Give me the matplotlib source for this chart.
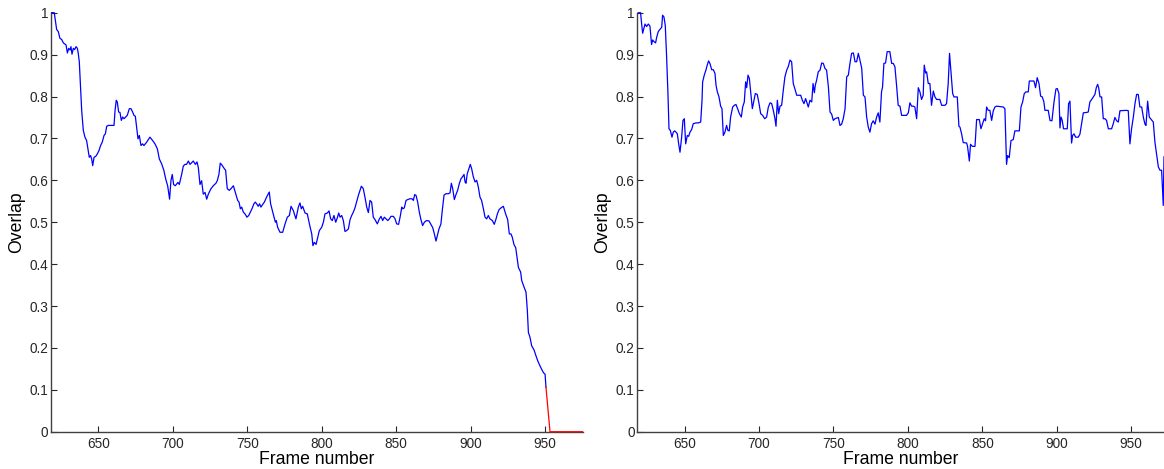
import matplotlib.pyplot as plt
import numpy as np

plt.rcParams['font.family'] = ['Liberation Sans', 'DejaVu Sans']

# left run: tracked frames (blue), then the part after the target is lost (red)
left_frames = [
    618.7, 620.5, 622.1, 623.2, 624.3, 625.5, 626.6, 627.7, 628.4, 629.3, 630.2, 631.1, 631.7, 632.4,
    633.3, 634.2, 635.1, 636.0, 636.6, 637.3, 638.0, 638.9, 640.0, 641.1, 642.2, 643.1, 644.0, 644.9,
    645.6, 646.3, 647.2, 648.3, 649.4, 650.5, 651.6, 652.7, 653.9, 654.8, 655.7, 656.8, 660.6, 661.3,
    662.1, 662.8, 663.7, 664.6, 665.5, 666.4, 667.3, 668.4, 669.5, 670.9, 672.0, 673.1, 674.0, 674.9,
    675.8, 676.7, 677.6, 678.7, 679.8, 680.7, 682.5, 684.7, 686.5, 688.1, 689.7, 691.0, 692.6, 694.1,
    695.3, 696.6, 697.9, 698.8, 699.7, 700.6, 701.7, 703.5, 704.4, 706.0, 707.1, 708.2, 709.3, 710.5,
    711.6, 712.7, 713.8, 715.2, 716.3, 717.2, 718.3, 719.4, 720.5, 721.7, 722.8, 723.9, 725.5, 727.2,
    729.0, 729.9, 731.0, 731.9, 733.1, 734.6, 735.5, 736.6, 738.0, 739.1, 740.7, 742.0, 743.6, 744.5,
    745.4, 746.3, 747.4, 748.5, 749.8, 751.0, 752.1, 753.2, 754.5, 755.4, 756.3, 757.4, 758.3, 759.2,
    760.3, 761.5, 763.0, 764.8, 765.7, 767.1, 768.0, 768.9, 769.5, 770.4, 772.0, 773.8, 775.4, 776.9,
    778.3, 779.4, 780.9, 782.7, 784.3, 785.4, 786.3, 787.2, 788.8, 790.3, 792.1, 793.3, 794.1, 795.0,
    796.2, 797.3, 798.4, 800.0, 801.1, 802.2, 803.8, 804.9, 806.0, 807.1, 808.2, 809.4, 810.5, 811.4,
    812.3, 813.4, 814.5, 815.6, 816.7, 817.9, 819.0, 820.1, 821.2, 822.3, 823.5, 824.6, 825.7, 826.6,
    827.9, 829.0, 830.2, 831.3, 832.4, 833.5, 834.6, 835.8, 837.3, 838.7, 839.8, 840.9, 842.0, 843.1,
    844.3, 845.4, 846.5, 848.1, 849.2, 850.3, 851.6, 852.8, 853.7, 854.3, 855.4, 856.6, 857.7, 859.2,
    860.6, 861.5, 862.4, 863.3, 864.4, 865.5, 866.6, 867.7, 868.9, 870.4, 872.0, 873.1, 874.5, 875.6,
    876.7, 877.6, 878.7, 880.0, 880.9, 882.1, 883.4, 885.0, 886.1, 887.0, 887.9, 889.0, 890.1, 891.2,
    892.4, 893.5, 894.6, 895.5, 896.2, 896.8, 897.7, 898.8, 899.7, 900.6, 901.7, 902.9, 904.0, 905.1,
    906.2, 907.3, 908.5, 909.6, 910.7, 911.8, 912.9, 914.5, 915.8, 917.0, 917.9, 919.0, 920.3, 921.9,
    922.6, 923.4, 924.8, 925.9, 927.0, 927.9, 929.0, 930.2, 932.0, 933.5, 934.2, 935.8, 937.1, 938.0,
    938.7, 939.8, 940.9, 942.5, 943.8, 945.0, 946.1, 947.6, 948.8, 949.9, 950.5]
left_overlap = [
    1.000, 1.000, 0.960, 0.955, 0.939, 0.936, 0.928, 0.925, 0.923, 0.904, 0.915, 0.911, 0.919, 0.901,
    0.915, 0.912, 0.919, 0.915, 0.903, 0.883, 0.831, 0.767, 0.719, 0.703, 0.695, 0.675, 0.655, 0.659,
    0.651, 0.635, 0.655, 0.657, 0.663, 0.671, 0.683, 0.691, 0.707, 0.711, 0.729, 0.731, 0.731, 0.767,
    0.791, 0.787, 0.763, 0.762, 0.743, 0.751, 0.747, 0.751, 0.755, 0.771, 0.771, 0.763, 0.755, 0.753,
    0.727, 0.699, 0.707, 0.683, 0.687, 0.683, 0.691, 0.703, 0.695, 0.687, 0.675, 0.651, 0.639, 0.623,
    0.603, 0.587, 0.555, 0.599, 0.614, 0.590, 0.587, 0.595, 0.590, 0.614, 0.634, 0.638, 0.638, 0.646,
    0.638, 0.642, 0.646, 0.638, 0.644, 0.630, 0.590, 0.599, 0.567, 0.571, 0.555, 0.567, 0.579, 0.587,
    0.593, 0.599, 0.614, 0.641, 0.636, 0.628, 0.624, 0.580, 0.576, 0.580, 0.587, 0.571, 0.552, 0.548,
    0.532, 0.536, 0.524, 0.520, 0.512, 0.516, 0.524, 0.532, 0.544, 0.548, 0.544, 0.538, 0.544, 0.536,
    0.542, 0.548, 0.560, 0.572, 0.544, 0.524, 0.512, 0.500, 0.504, 0.488, 0.476, 0.476, 0.496, 0.512,
    0.516, 0.538, 0.528, 0.508, 0.536, 0.546, 0.532, 0.538, 0.522, 0.520, 0.490, 0.472, 0.444, 0.452,
    0.447, 0.464, 0.480, 0.488, 0.500, 0.520, 0.522, 0.527, 0.508, 0.504, 0.516, 0.500, 0.511, 0.522,
    0.512, 0.516, 0.504, 0.478, 0.480, 0.484, 0.506, 0.516, 0.524, 0.534, 0.550, 0.564, 0.576, 0.586,
    0.580, 0.560, 0.536, 0.523, 0.552, 0.548, 0.512, 0.506, 0.496, 0.508, 0.514, 0.504, 0.512, 0.508,
    0.504, 0.508, 0.514, 0.514, 0.508, 0.496, 0.495, 0.516, 0.536, 0.532, 0.534, 0.552, 0.554, 0.556,
    0.556, 0.552, 0.566, 0.564, 0.548, 0.524, 0.506, 0.492, 0.500, 0.504, 0.503, 0.496, 0.487, 0.472,
    0.455, 0.468, 0.484, 0.496, 0.528, 0.565, 0.568, 0.568, 0.570, 0.593, 0.580, 0.554, 0.566, 0.576,
    0.593, 0.604, 0.609, 0.614, 0.596, 0.593, 0.616, 0.628, 0.638, 0.628, 0.609, 0.596, 0.600, 0.584,
    0.560, 0.552, 0.532, 0.512, 0.508, 0.516, 0.508, 0.504, 0.495, 0.508, 0.520, 0.530, 0.534, 0.538,
    0.530, 0.520, 0.506, 0.472, 0.472, 0.464, 0.447, 0.439, 0.392, 0.381, 0.361, 0.345, 0.333, 0.289,
    0.237, 0.225, 0.205, 0.195, 0.181, 0.169, 0.160, 0.149, 0.141, 0.137, 0.106]
lost_frames = [950.5, 953.2, 975.0]
lost_overlap = [0.106, 0.0, 0.0]

# right run
right_frames = [
    618.9, 620.4, 621.1, 621.8, 622.7, 623.4, 624.5, 625.6, 626.7, 627.8, 628.5, 629.4, 630.5, 631.2,
    632.3, 633.4, 634.6, 635.2, 636.1, 637.0, 637.9, 638.8, 639.5, 640.4, 641.5, 642.4, 643.3, 644.2,
    645.1, 646.0, 646.9, 648.0, 648.9, 649.8, 650.7, 651.8, 652.7, 653.6, 654.7, 655.8, 657.6, 659.2,
    660.8, 661.7, 662.1, 663.2, 664.4, 665.2, 666.1, 667.0, 668.2, 669.3, 670.4, 671.1, 672.0, 673.1,
    674.2, 675.1, 676.0, 677.1, 678.2, 679.1, 680.0, 680.9, 682.3, 683.4, 684.5, 685.6, 686.8, 688.1,
    689.0, 690.1, 691.0, 691.7, 692.6, 693.5, 694.4, 695.5, 696.6, 697.5, 698.8, 700.0, 701.1, 702.4,
    703.8, 705.1, 706.2, 707.4, 708.5, 709.6, 710.7, 711.4, 712.3, 713.2, 714.1, 715.2, 716.3, 717.4,
    718.6, 719.7, 720.8, 721.9, 723.0, 724.2, 725.3, 728.0, 729.1, 730.2, 731.3, 732.4, 733.1, 734.2,
    735.4, 736.3, 737.2, 737.8, 738.7, 739.8, 741.0, 742.1, 743.2, 744.3, 745.4, 746.6, 747.7, 748.8,
    749.9, 751.0, 753.3, 754.4, 755.5, 756.6, 757.8, 758.9, 760.0, 761.1, 762.2, 763.4, 764.5, 765.6,
    766.7, 767.8, 769.0, 770.1, 771.2, 772.3, 773.4, 774.5, 775.6, 776.7, 777.9, 779.0, 780.1, 781.2,
    782.3, 783.0, 783.9, 785.0, 786.1, 787.9, 789.1, 790.2, 791.3, 792.4, 793.5, 794.7, 795.8, 799.1,
    800.3, 801.4, 802.5, 803.6, 804.7, 805.9, 807.0, 808.1, 809.2, 810.3, 811.0, 811.9, 812.6, 813.7,
    814.8, 815.9, 817.1, 818.2, 819.3, 821.5, 822.7, 824.9, 826.0, 827.1, 828.0, 828.9, 830.1, 831.0,
    833.2, 834.3, 835.0, 836.1, 837.2, 839.5, 840.1, 841.3, 842.1, 843.3, 845.1, 846.2, 848.0, 849.1,
    850.2, 851.3, 852.2, 852.9, 854.0, 855.1, 856.3, 857.4, 858.5, 859.6, 864.1, 865.2, 866.3, 867.0,
    868.1, 869.3, 870.8, 871.9, 874.9, 876.0, 877.1, 878.2, 879.3, 880.9, 881.6, 884.7, 885.8, 886.9,
    888.1, 889.2, 890.3, 891.4, 892.1, 894.3, 895.5, 896.8, 898.2, 899.5, 900.4, 901.5, 902.2, 902.9,
    903.7, 904.6, 907.1, 908.0, 908.9, 910.0, 910.7, 911.6, 912.7, 914.5, 915.6, 916.7, 917.9, 920.1,
    921.2, 922.3, 923.5, 924.6, 925.7, 926.6, 927.5, 928.2, 929.1, 930.2, 931.3, 932.4, 933.5, 934.7,
    936.9, 938.0, 939.1, 940.3, 941.4, 942.5, 947.0, 948.1, 949.2, 950.3, 951.5, 952.6, 953.7, 954.8,
    955.9, 957.1, 958.2, 959.3, 960.0, 961.1, 962.2, 964.2, 964.9, 966.0, 967.1, 968.3, 969.4, 970.5,
    971.6, 972.1]
right_overlap = [
    1.000, 1.000, 0.974, 0.951, 0.963, 0.973, 0.967, 0.973, 0.968, 0.924, 0.935, 0.931, 0.928, 0.941,
    0.955, 0.960, 0.965, 0.994, 0.990, 0.970, 0.895, 0.807, 0.723, 0.719, 0.703, 0.715, 0.718, 0.715,
    0.711, 0.687, 0.667, 0.703, 0.743, 0.747, 0.687, 0.707, 0.705, 0.715, 0.721, 0.735, 0.737, 0.737,
    0.739, 0.791, 0.835, 0.851, 0.864, 0.875, 0.885, 0.879, 0.864, 0.864, 0.855, 0.827, 0.811, 0.799,
    0.777, 0.771, 0.707, 0.715, 0.731, 0.719, 0.718, 0.751, 0.775, 0.779, 0.781, 0.771, 0.759, 0.751,
    0.775, 0.787, 0.835, 0.821, 0.851, 0.843, 0.811, 0.771, 0.791, 0.807, 0.805, 0.783, 0.759, 0.755,
    0.747, 0.751, 0.774, 0.785, 0.783, 0.767, 0.747, 0.729, 0.791, 0.759, 0.777, 0.779, 0.815, 0.847,
    0.863, 0.872, 0.887, 0.883, 0.831, 0.817, 0.803, 0.803, 0.791, 0.783, 0.795, 0.783, 0.775, 0.791,
    0.787, 0.831, 0.809, 0.827, 0.839, 0.859, 0.863, 0.880, 0.879, 0.867, 0.863, 0.823, 0.763, 0.758,
    0.743, 0.747, 0.750, 0.731, 0.734, 0.747, 0.771, 0.847, 0.851, 0.879, 0.903, 0.904, 0.883, 0.883,
    0.903, 0.887, 0.867, 0.803, 0.799, 0.751, 0.727, 0.715, 0.735, 0.742, 0.734, 0.751, 0.761, 0.739,
    0.811, 0.823, 0.879, 0.880, 0.907, 0.907, 0.879, 0.879, 0.871, 0.827, 0.779, 0.777, 0.755, 0.755,
    0.761, 0.785, 0.777, 0.777, 0.775, 0.747, 0.821, 0.811, 0.793, 0.803, 0.875, 0.856, 0.859, 0.831,
    0.831, 0.779, 0.813, 0.799, 0.793, 0.793, 0.779, 0.779, 0.783, 0.831, 0.903, 0.863, 0.807, 0.799,
    0.799, 0.729, 0.727, 0.711, 0.690, 0.689, 0.681, 0.646, 0.686, 0.681, 0.681, 0.745, 0.745, 0.723,
    0.735, 0.747, 0.742, 0.775, 0.767, 0.767, 0.743, 0.766, 0.775, 0.777, 0.775, 0.771, 0.638, 0.659,
    0.654, 0.695, 0.697, 0.718, 0.718, 0.775, 0.787, 0.807, 0.811, 0.811, 0.837, 0.837, 0.821, 0.845,
    0.831, 0.801, 0.799, 0.787, 0.767, 0.767, 0.743, 0.742, 0.787, 0.818, 0.819, 0.807, 0.725, 0.751,
    0.743, 0.723, 0.723, 0.783, 0.789, 0.689, 0.707, 0.711, 0.703, 0.703, 0.710, 0.734, 0.761, 0.762,
    0.763, 0.787, 0.793, 0.799, 0.805, 0.821, 0.829, 0.821, 0.799, 0.799, 0.747, 0.747, 0.743, 0.723,
    0.723, 0.735, 0.750, 0.742, 0.739, 0.766, 0.767, 0.766, 0.687, 0.723, 0.751, 0.783, 0.805, 0.805,
    0.775, 0.775, 0.751, 0.734, 0.731, 0.789, 0.751, 0.742, 0.739, 0.691, 0.662, 0.632, 0.624, 0.624,
    0.540, 0.656]

y_ticks = np.arange(0, 1.01, 0.1)
y_labels = ['0', '0.1', '0.2', '0.3', '0.4', '0.5', '0.6', '0.7', '0.8', '0.9', '1']
x_ticks = [650, 700, 750, 800, 850, 900, 950]

fig = plt.figure(figsize=(11.64, 4.69), dpi=100)
ax1 = fig.add_axes([0.0438, 0.0795, 0.4570, 0.8934])
ax2 = fig.add_axes([0.5475, 0.0795, 0.4525, 0.8934])

ax1.plot(left_frames, left_overlap, color='#0000ff', linewidth=0.9, clip_on=False, zorder=3)
ax1.plot(lost_frames, lost_overlap, color='#ff0000', linewidth=0.9, clip_on=False, zorder=3)
ax1.set_xlim(618.3, 975.3)

ax2.plot(right_frames, right_overlap, color='#0000ff', linewidth=0.9, clip_on=False, zorder=3)
ax2.set_xlim(618.2, 972.1)

for ax in (ax1, ax2):
    ax.set_ylim(0, 1)
    ax.set_yticks(y_ticks)
    ax.set_yticklabels(y_labels)
    ax.set_xticks(x_ticks)
    ax.spines['top'].set_visible(False)
    ax.spines['right'].set_visible(False)
    for s in ('left', 'bottom'):
        ax.spines[s].set_color('#404040')
        ax.spines[s].set_linewidth(1.0)
    ax.tick_params(direction='in', length=4, width=0.8, color='#262626',
                   labelsize=9.8, labelcolor='#262626')
    ax.tick_params(axis='y', pad=2)
    ax.tick_params(axis='x', pad=4)
    ax.set_xlabel('Frame number', fontsize=12.7, labelpad=0)
    ax.set_ylabel('Overlap', fontsize=12.7, labelpad=3)

fig.savefig('out.png', dpi=100)
